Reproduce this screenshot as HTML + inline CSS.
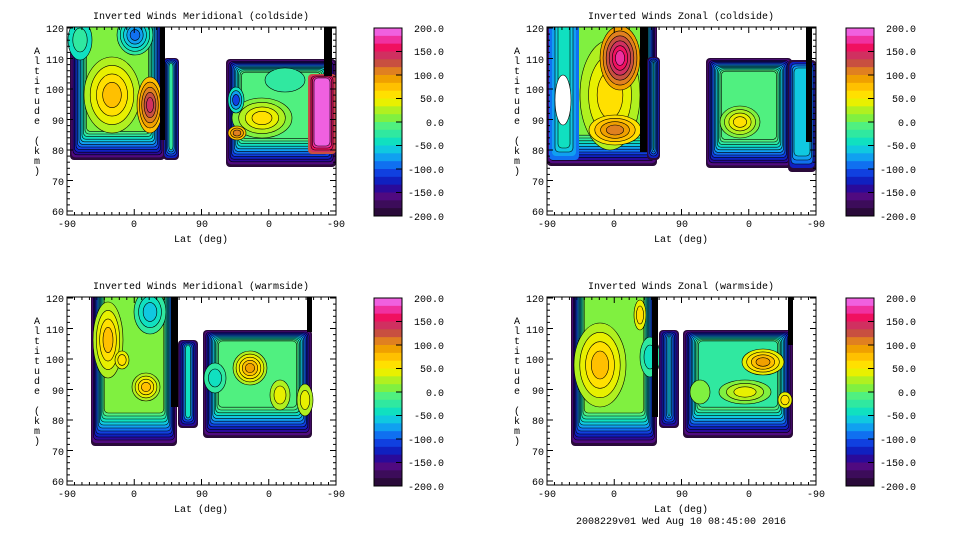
<!DOCTYPE html>
<html><head><meta charset="utf-8"><style>
html,body{margin:0;padding:0;background:#fff;}
svg{display:block;}
text{font-family:"Liberation Mono","DejaVu Sans Mono",monospace;font-size:10px;fill:#000;}
</style></head><body>
<svg id="s" width="960" height="540" viewBox="0 0 960 540" xmlns="http://www.w3.org/2000/svg">
<defs>
<clipPath id="c1"><rect x="67" y="27" width="269" height="188"/></clipPath>
<clipPath id="c2"><rect x="547" y="27" width="269" height="188"/></clipPath>
<clipPath id="c3"><rect x="67" y="297" width="269" height="188"/></clipPath>
<clipPath id="c4"><rect x="547" y="297" width="269" height="188"/></clipPath>
</defs>
<rect width="960" height="540" fill="#fff"/>
<g id="p1" clip-path="url(#c1)"></g>
<g id="p2" clip-path="url(#c2)"></g>
<g id="p3" clip-path="url(#c3)"></g>
<g id="p4" clip-path="url(#c4)"></g>
<g id="axes"></g>
<g text-anchor="middle">
<text x="201" y="19">Inverted Winds Meridional (coldside)</text>
<text x="681" y="19">Inverted Winds Zonal (coldside)</text>
<text x="201" y="289">Inverted Winds Meridional (warmside)</text>
<text x="681" y="289">Inverted Winds Zonal (warmside)</text>
<text x="201" y="242">Lat (deg)</text>
<text x="681" y="242">Lat (deg)</text>
<text x="201" y="512">Lat (deg)</text>
<text x="681" y="512">Lat (deg)</text>
<text x="681" y="524">2008229v01 Wed Aug 10 08:45:00 2016</text>
<text x="67" y="227">-90</text><text x="134" y="227">0</text><text x="202" y="227">90</text><text x="269" y="227">0</text><text x="336" y="227">-90</text>
<text x="547" y="227">-90</text><text x="614" y="227">0</text><text x="682" y="227">90</text><text x="749" y="227">0</text><text x="816" y="227">-90</text>
<text x="67" y="497">-90</text><text x="134" y="497">0</text><text x="202" y="497">90</text><text x="269" y="497">0</text><text x="336" y="497">-90</text>
<text x="547" y="497">-90</text><text x="614" y="497">0</text><text x="682" y="497">90</text><text x="749" y="497">0</text><text x="816" y="497">-90</text>
</g>
<g text-anchor="end">
<text x="64" y="32">120</text><text x="64" y="63">110</text><text x="64" y="93">100</text><text x="64" y="124">90</text><text x="64" y="154">80</text><text x="64" y="185">70</text><text x="64" y="215">60</text>
<text x="544" y="32">120</text><text x="544" y="63">110</text><text x="544" y="93">100</text><text x="544" y="124">90</text><text x="544" y="154">80</text><text x="544" y="185">70</text><text x="544" y="215">60</text>
<text x="64" y="302">120</text><text x="64" y="333">110</text><text x="64" y="363">100</text><text x="64" y="394">90</text><text x="64" y="424">80</text><text x="64" y="455">70</text><text x="64" y="485">60</text>
<text x="544" y="302">120</text><text x="544" y="333">110</text><text x="544" y="363">100</text><text x="544" y="394">90</text><text x="544" y="424">80</text><text x="544" y="455">70</text><text x="544" y="485">60</text>
<text x="444" y="32">200.0</text><text x="444" y="55">150.0</text><text x="444" y="79">100.0</text><text x="444" y="102">50.0</text><text x="444" y="126">0.0</text><text x="444" y="149">-50.0</text><text x="444" y="173">-100.0</text><text x="444" y="196">-150.0</text><text x="444" y="220">-200.0</text>
<text x="916" y="32">200.0</text><text x="916" y="55">150.0</text><text x="916" y="79">100.0</text><text x="916" y="102">50.0</text><text x="916" y="126">0.0</text><text x="916" y="149">-50.0</text><text x="916" y="173">-100.0</text><text x="916" y="196">-150.0</text><text x="916" y="220">-200.0</text>
<text x="444" y="302">200.0</text><text x="444" y="325">150.0</text><text x="444" y="349">100.0</text><text x="444" y="372">50.0</text><text x="444" y="396">0.0</text><text x="444" y="419">-50.0</text><text x="444" y="443">-100.0</text><text x="444" y="466">-150.0</text><text x="444" y="490">-200.0</text>
<text x="916" y="302">200.0</text><text x="916" y="325">150.0</text><text x="916" y="349">100.0</text><text x="916" y="372">50.0</text><text x="916" y="396">0.0</text><text x="916" y="419">-50.0</text><text x="916" y="443">-100.0</text><text x="916" y="466">-150.0</text><text x="916" y="490">-200.0</text>
</g>
<g text-anchor="middle">
<text x="37" y="54"><tspan x="37">A</tspan><tspan x="37" dy="10">l</tspan><tspan x="37" dy="10">t</tspan><tspan x="37" dy="10">i</tspan><tspan x="37" dy="10">t</tspan><tspan x="37" dy="10">u</tspan><tspan x="37" dy="10">d</tspan><tspan x="37" dy="10">e</tspan><tspan x="37" dy="20">(</tspan><tspan x="37" dy="10">k</tspan><tspan x="37" dy="10">m</tspan><tspan x="37" dy="10">)</tspan></text>
<text x="517" y="54"><tspan x="517">A</tspan><tspan x="517" dy="10">l</tspan><tspan x="517" dy="10">t</tspan><tspan x="517" dy="10">i</tspan><tspan x="517" dy="10">t</tspan><tspan x="517" dy="10">u</tspan><tspan x="517" dy="10">d</tspan><tspan x="517" dy="10">e</tspan><tspan x="517" dy="20">(</tspan><tspan x="517" dy="10">k</tspan><tspan x="517" dy="10">m</tspan><tspan x="517" dy="10">)</tspan></text>
<text x="37" y="324"><tspan x="37">A</tspan><tspan x="37" dy="10">l</tspan><tspan x="37" dy="10">t</tspan><tspan x="37" dy="10">i</tspan><tspan x="37" dy="10">t</tspan><tspan x="37" dy="10">u</tspan><tspan x="37" dy="10">d</tspan><tspan x="37" dy="10">e</tspan><tspan x="37" dy="20">(</tspan><tspan x="37" dy="10">k</tspan><tspan x="37" dy="10">m</tspan><tspan x="37" dy="10">)</tspan></text>
<text x="517" y="324"><tspan x="517">A</tspan><tspan x="517" dy="10">l</tspan><tspan x="517" dy="10">t</tspan><tspan x="517" dy="10">i</tspan><tspan x="517" dy="10">t</tspan><tspan x="517" dy="10">u</tspan><tspan x="517" dy="10">d</tspan><tspan x="517" dy="10">e</tspan><tspan x="517" dy="20">(</tspan><tspan x="517" dy="10">k</tspan><tspan x="517" dy="10">m</tspan><tspan x="517" dy="10">)</tspan></text>
</g>
</svg>
<script>
var C=['#2a0a3a','#3c0c5a','#500a80','#2a0a9a','#1020c0','#1040e0','#1070f0','#10a0f0','#10c8e0','#10e0c0','#30e8a0','#50f080','#80f040','#b0f020','#e8f000','#ffe000','#ffc000','#f0a000','#e08020','#c85040','#d03060','#f01060','#f030a0','#f060e0'];
var h='',a='';
function rect(x,y,w,h2,c,rx,st){return '<rect x="'+x+'" y="'+y+'" width="'+Math.max(w,0)+'" height="'+Math.max(h2,0)+'" rx="'+rx+'" fill="'+c+'"'+(st?' stroke="#000" stroke-width="0.6"':'')+'/>';}
function block(x,y,w,hh,lv,is,it,ib){for(var i=0;i<lv.length;i++){h+=rect(x+i*is,y+i*it,w-2*i*is,hh-i*(it+ib),C[lv[i]],4,i>1);}}
function blob(cx,cy,rx,ry,lv){for(var i=0;i<lv.length;i++){var f=1-i/(lv.length+0.5);h+='<ellipse cx="'+cx+'" cy="'+cy+'" rx="'+rx*f+'" ry="'+ry*f+'" fill="'+C[lv[i]]+'" stroke="#000" stroke-width="0.6"/>';}}
function bar(x,y,w,hh){h+=rect(x,y,w,hh,'#000',0);}
function flush(id){document.getElementById(id).innerHTML=h;h='';}
var O=[0,2,3,4,5,6,7,8,9,10,11];
// TL
block(70,20,95,140,O.concat([12]),1.5,0,2.6);
blob(80,40,12,20,[9,10]);
blob(112,95,28,38,[13,14,15,16]);blob(150,105,13,28,[16,17,18,19,20]);blob(135,35,18,20,[10,9,8,7,6]);
block(163,58,16,102,[0,4,5,6,7,10],1.2,1,2);bar(160,27,5,113);
block(226,59,110,108,O.concat([11]),1.4,1.2,2.6);
blob(262,118,30,20,[12,13,14,15]);blob(237,133,9,7,[16,17,18]);blob(236,100,8,13,[9,7,5]);blob(285,80,20,12,[10]);
block(308,74,28,80,[19,20,21,22,23],1.5,1,2);bar(324,26,8,50);
flush('p1');
// TR
block(547,20,110,146,O.concat([12]),1.2,0,2.8);
block(549,20,30,140,[6,7,8,9],3,0,4);h+='<ellipse cx="563" cy="100" rx="8" ry="25" fill="#fff" stroke="#000" stroke-width="0.6"/>';
blob(610,95,30,55,[13,14,15]);blob(615,130,26,15,[15,16,17,18]);blob(620,58,20,32,[17,18,19,20,21,22]);
bar(640,27,8,125);block(647,57,13,103,[0,4,5,6,7,9],1.2,1,2);
block(706,58,86,110,O.concat([11]),1.4,1.2,2.6);blob(740,122,20,16,[12,13,14,15]);
block(788,60,28,112,[0,4,6,7,8],1.5,2,4);bar(806,27,6,115);
flush('p2');
// BL
block(91,290,86,156,O.concat([12]),1.2,0,3);
blob(108,340,15,38,[13,14,15,16]);blob(150,312,16,22,[10,9,8]);blob(146,387,14,14,[13,14,15,16]);blob(122,360,7,9,[14,15]);
bar(171,297,7,110);block(178,340,20,88,[0,3,4,5,7,9],1.5,1,2);
block(203,330,109,108,O.concat([11]),1.4,1,2.8);
blob(250,368,17,17,[13,14,15,16,17]);blob(280,395,10,15,[13,14]);blob(305,400,8,16,[13,14]);blob(215,378,11,15,[10,9]);bar(307,297,5,35);
flush('p3');
// BR
block(571,290,86,156,O.concat([12]),1.2,0,3);
blob(600,365,26,42,[13,14,15,16]);blob(650,357,10,20,[10,9]);blob(640,315,6,15,[14,15]);
bar(652,297,6,120);block(659,330,20,98,[0,3,4,5,6,7,8],1.5,1,2);
block(683,330,110,108,O.concat([10]),1.4,1,2.8);
blob(763,362,21,13,[14,15,16,17]);blob(745,392,26,12,[12,13,14]);blob(700,392,10,12,[12]);blob(785,400,7,8,[14,15]);bar(788,297,5,48);
flush('p4');
function axes(x0,y0){var w=269,hh=188;
a+='<rect x="'+x0+'" y="'+y0+'" width="'+w+'" height="'+hh+'" fill="none" stroke="#000" stroke-width="1"/>';
for(var k=0;k<=30;k++){var y=y0+1+k*3.05*2,L=(k%5==0)?6:3;if(y>y0+hh)break;
a+='<line x1="'+x0+'" y1="'+y+'" x2="'+(x0+L)+'" y2="'+y+'" stroke="#000"/><line x1="'+(x0+w)+'" y1="'+y+'" x2="'+(x0+w-L)+'" y2="'+y+'" stroke="#000"/>';}
for(var k=0;k<=36;k++){var x=x0+k*w/36,L=(k%9==0)?6:3;
a+='<line x1="'+x+'" y1="'+(y0+hh)+'" x2="'+x+'" y2="'+(y0+hh-L)+'" stroke="#000"/><line x1="'+x+'" y1="'+y0+'" x2="'+x+'" y2="'+(y0+L)+'" stroke="#000"/>';}}
function cbar(x,y){var bh=188/24;for(var i=0;i<24;i++){a+=rect(x,y+i*bh,28,bh+0.5,C[23-i],0);}
a+='<rect x="'+x+'" y="'+y+'" width="28" height="188" fill="none" stroke="#000"/>';
for(var j=1;j<8;j++){var yy=y+j*23.5;a+='<line x1="'+(x+22)+'" y1="'+yy+'" x2="'+(x+28)+'" y2="'+yy+'" stroke="#000"/>';}}
axes(67,27);axes(547,27);axes(67,297);axes(547,297);
cbar(374,28);cbar(846,28);cbar(374,298);cbar(846,298);
document.getElementById('axes').innerHTML=a;
</script>
</body></html>
